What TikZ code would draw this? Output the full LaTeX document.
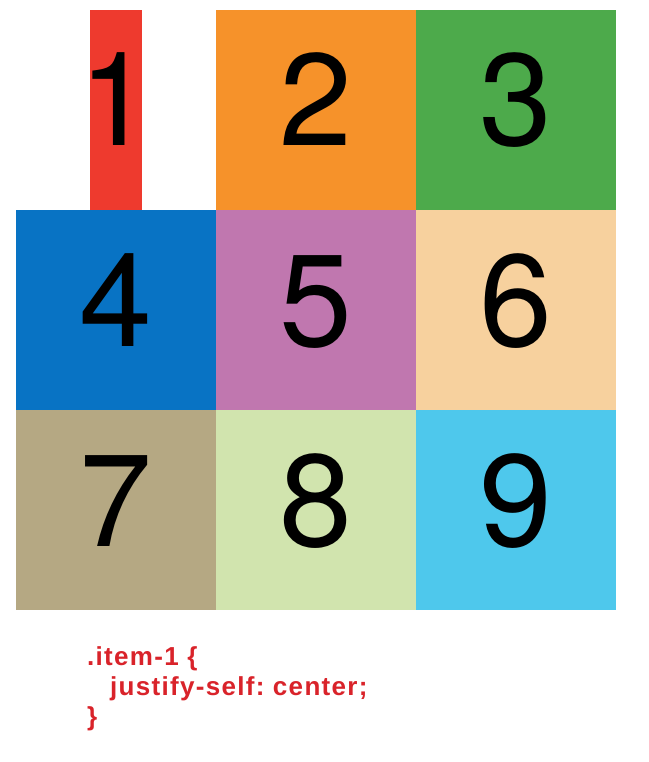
\documentclass[tikz,border=0pt]{standalone}
\usepackage{fontspec}
\setmainfont{Liberation Sans}
\newfontfamily\digitfont{TeX Gyre Heros}
\newfontfamily\codefont[LetterSpace=5]{Liberation Sans}
\definecolor{cA}{HTML}{EE3A2E}
\definecolor{cB}{HTML}{F6922A}
\definecolor{cC}{HTML}{4DAA4B}
\definecolor{cD}{HTML}{0873C4}
\definecolor{cE}{HTML}{C077AF}
\definecolor{cF}{HTML}{F7D19E}
\definecolor{cG}{HTML}{B5A883}
\definecolor{cH}{HTML}{D1E4AE}
\definecolor{cI}{HTML}{4EC8EC}
\definecolor{codered}{HTML}{D9232A}
\tikzset{
  digit/.style={anchor=base, inner sep=0pt, font=\digitfont\fontsize{131}{131}\selectfont, text=black},
  code/.style={anchor=base west, inner sep=0pt, font=\codefont\fontsize{26}{26}\selectfont\bfseries\frenchspacing, text=codered}
}
\begin{document}
\begin{tikzpicture}[x=1pt,y=-1pt]
\useasboundingbox (0,0) rectangle (648,762);
\fill[white] (0,0) rectangle (648,762);
% cells
\fill[cA] (90,10) rectangle (142,210);
\fill[cB] (216,10) rectangle (416,210);
\fill[cC] (416,10) rectangle (616,210);
\fill[cD] (16,210) rectangle (216,410);
\fill[cE] (216,210) rectangle (416,410);
\fill[cF] (416,210) rectangle (616,410);
\fill[cG] (16,410) rectangle (216,610);
\fill[cH] (216,410) rectangle (416,610);
\fill[cI] (416,410) rectangle (616,610);
% digits
\node[digit] (d1) at (116,146) {1};
\node[digit] (d2) at (316,146) {2};
\node[digit] (d3) at (516,146) {3};
\node[digit] (d4) at (116,346) {4};
\node[digit] (d5) at (316,346) {5};
\node[digit] (d6) at (516,346) {6};
\node[digit] (d7) at (116,546) {7};
\node[digit] (d8) at (316,546) {8};
\node[digit] (d9) at (516,546) {9};
% code
\node[code] (c1) at (87,665) {.item-1 \{};
\node[code] (c2) at (110,695) {justify-self: center;};
\node[code] (c3) at (87,725) {\}};
\end{tikzpicture}
\end{document}
